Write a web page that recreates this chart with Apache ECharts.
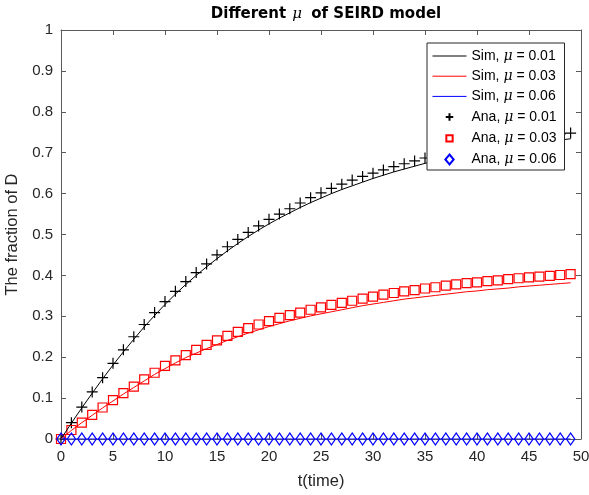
<!DOCTYPE html>
<html>
<head>
<meta charset="utf-8">
<script src="https://cdn.jsdelivr.net/npm/echarts@6/dist/echarts.min.js"></script>
<style>
  html, body { margin: 0; padding: 0; background: #fff; }
  #chart { width: 589px; height: 495px; }
</style>
</head>
<body>
<div id="chart"></div>
<script>
// time steps 0..49
var t = [];
for (var i = 0; i < 50; i++) t.push(i);

var simMu001 = [0, 0.039, 0.076, 0.112, 0.147, 0.181, 0.213, 0.244, 0.274, 0.302, 0.329, 0.354, 0.378, 0.400, 0.421, 0.441, 0.460, 0.478, 0.495, 0.511, 0.526, 0.540, 0.553, 0.566, 0.578, 0.589, 0.600, 0.610, 0.619, 0.628, 0.637, 0.645, 0.653, 0.660, 0.667, 0.674, 0.680, 0.686, 0.691, 0.696, 0.701, 0.706, 0.710, 0.714, 0.718, 0.722, 0.725, 0.728, 0.731, 0.734];
var simMu003 = [0, 0.021, 0.040, 0.058, 0.076, 0.093, 0.110, 0.126, 0.142, 0.158, 0.172, 0.186, 0.199, 0.210, 0.221, 0.231, 0.241, 0.250, 0.259, 0.267, 0.275, 0.282, 0.289, 0.295, 0.301, 0.306, 0.311, 0.316, 0.321, 0.326, 0.330, 0.334, 0.338, 0.342, 0.345, 0.348, 0.351, 0.354, 0.357, 0.360, 0.362, 0.365, 0.367, 0.369, 0.372, 0.374, 0.376, 0.378, 0.380, 0.382];
var simMu006 = [0, 0, 0, 0, 0, 0, 0, 0, 0, 0, 0, 0, 0, 0, 0, 0, 0, 0, 0, 0, 0, 0, 0, 0, 0, 0, 0, 0, 0, 0, 0, 0, 0, 0, 0, 0, 0, 0, 0, 0, 0, 0, 0, 0, 0, 0, 0, 0, 0, 0];

var anaMu001 = [0, 0.040, 0.078, 0.115, 0.150, 0.185, 0.218, 0.250, 0.280, 0.309, 0.336, 0.361, 0.385, 0.407, 0.428, 0.450, 0.470, 0.488, 0.505, 0.521, 0.537, 0.550, 0.563, 0.577, 0.590, 0.602, 0.613, 0.623, 0.633, 0.642, 0.650, 0.658, 0.666, 0.673, 0.680, 0.687, 0.694, 0.700, 0.706, 0.712, 0.717, 0.722, 0.726, 0.730, 0.734, 0.738, 0.741, 0.744, 0.746, 0.748];
var anaMu003 = [0, 0.022, 0.040, 0.059, 0.077, 0.095, 0.112, 0.128, 0.146, 0.162, 0.179, 0.192, 0.205, 0.218, 0.230, 0.241, 0.252, 0.262, 0.271, 0.280, 0.288, 0.296, 0.303, 0.309, 0.316, 0.322, 0.328, 0.333, 0.338, 0.343, 0.348, 0.353, 0.357, 0.361, 0.364, 0.368, 0.371, 0.375, 0.378, 0.381, 0.383, 0.386, 0.388, 0.391, 0.393, 0.395, 0.397, 0.399, 0.401, 0.403];
var anaMu006 = [0, 0, 0, 0, 0, 0, 0, 0, 0, 0, 0, 0, 0, 0, 0, 0, 0, 0, 0, 0, 0, 0, 0, 0, 0, 0, 0, 0, 0, 0, 0, 0, 0, 0, 0, 0, 0, 0, 0, 0, 0, 0, 0, 0, 0, 0, 0, 0, 0, 0];

var seriesNames = ['Sim, μ = 0.01', 'Sim, μ = 0.03', 'Sim, μ = 0.06', 'Ana, μ = 0.01', 'Ana, μ = 0.03', 'Ana, μ = 0.06'];

function pairs(ys) {
  return ys.map(function (y, k) { return [t[k], y]; });
}

var plusPath = 'path://M5,0L5,10M0,5L10,5';
var squarePath = 'path://M0,0L10,0L10,10L0,10Z';
var diamondPath = 'path://M5,0L10,6L5,12L0,6Z';
// legend icons, padded with an empty move so they come out a bit smaller
var plusIcon = 'path://M0,0M12,12M6,1.5L6,10.5M1.5,6L10.5,6';
var squareIcon = 'path://M0,0M12,12M2.2,2.2L9.8,2.2L9.8,9.8L2.2,9.8Z';
var fontName = 'Liberation Sans, Arial, sans-serif';
var textColor = '#262626';
var axisColor = '#5a5a5a';

var chart = echarts.init(document.getElementById('chart'));

function xAx(pos, labels) {
  return {
    type: 'value', position: pos, min: 0, max: 50, interval: 5,
    name: labels ? 't(time)' : '', nameLocation: 'middle', nameGap: 34,
    nameTextStyle: { fontFamily: fontName, fontSize: 16.5, color: textColor },
    axisLine: { show: true, onZero: false, lineStyle: { color: axisColor, width: 1 } },
    axisTick: { show: true, inside: true, length: 5, lineStyle: { color: axisColor } },
    axisLabel: { show: labels, fontFamily: fontName, fontSize: 15, color: textColor, margin: 10 },
    splitLine: { show: false }
  };
}
function yAx(pos, labels) {
  return {
    type: 'value', position: pos, min: 0, max: 1, interval: 0.1,
    name: labels ? 'The fraction of D' : '', nameLocation: 'middle', nameGap: 36,
    nameTextStyle: { fontFamily: fontName, fontSize: 16.5, color: textColor },
    axisLine: { show: true, onZero: false, lineStyle: { color: axisColor, width: 1 } },
    axisTick: { show: true, inside: true, length: 5, lineStyle: { color: axisColor } },
    axisLabel: { show: labels, fontFamily: fontName, fontSize: 15, color: textColor, margin: 8,
      formatter: function (v) { return String(Math.round(v * 10) / 10); } },
    splitLine: { show: false }
  };
}

function legendItem(name, k) {
  // line entries: hide the default marker on the line icon
  if (k < 3) return { name: name, itemStyle: { opacity: 0 }, lineStyle: { width: 1 } };
  if (k === 3) return { name: name, icon: plusIcon };
  if (k === 4) return { name: name, icon: squareIcon };
  return { name: name };
}

chart.setOption({
  animation: false,
  backgroundColor: '#fff',
  title: {
    text: 'Different {m|μ} of SEIRD model',
    left: 321, top: 2, textAlign: 'center',
    textStyle: {
      fontFamily: 'DejaVu Sans', fontSize: 15, fontWeight: 'bold', color: '#000',
      rich: { m: { fontFamily: 'DejaVu Serif', fontStyle: 'italic', fontWeight: 'normal', fontSize: 15, color: '#000', padding: [0, 4, 0, 1] } }
    }
  },
  grid: { left: 61, right: 8, top: 30, bottom: 56, containLabel: false, outerBoundsMode: 'none' },
  xAxis: [xAx('bottom', true), xAx('top', false)],
  yAxis: [yAx('left', true), yAx('right', false)],
  legend: {
    orient: 'vertical', left: 427, top: 43,
    padding: [6, 8, 3, 5],
    itemWidth: 34, itemHeight: 10, itemGap: 6.2, itemTextGap: 5,
    backgroundColor: '#fff', borderColor: '#262626', borderWidth: 1,
    lineStyle: { width: 1 },
    data: seriesNames.map(legendItem),
    textStyle: {
      fontFamily: fontName, fontSize: 14, color: '#000', lineHeight: 14,
      rich: { m: { fontFamily: 'DejaVu Serif', fontStyle: 'italic', fontSize: 14, lineHeight: 14, color: '#000' } }
    },
    formatter: function (name) { return name.replace('μ', '{m|μ}'); }
  },
  series: [
    { name: seriesNames[0], type: 'line', data: pairs(simMu001), symbol: 'none', lineStyle: { color: '#000', width: 1 }, itemStyle: { color: '#000' } },
    { name: seriesNames[1], type: 'line', data: pairs(simMu003), symbol: 'none', lineStyle: { color: '#ff0000', width: 1 }, itemStyle: { color: '#ff0000' } },
    { name: seriesNames[2], type: 'line', data: pairs(simMu006), symbol: 'none', lineStyle: { color: '#0000ff', width: 1 }, itemStyle: { color: '#0000ff' } },
    { name: seriesNames[3], type: 'scatter', data: pairs(anaMu001), symbol: plusPath, symbolSize: 11, symbolKeepAspect: true,
      itemStyle: { color: 'none', borderColor: '#000', borderWidth: 1.2, opacity: 1 } },
    { name: seriesNames[4], type: 'scatter', data: pairs(anaMu003), symbol: squarePath, symbolSize: 9, symbolKeepAspect: true,
      itemStyle: { color: 'none', borderColor: '#ff0000', borderWidth: 1.2, opacity: 1 } },
    { name: seriesNames[5], type: 'scatter', data: pairs(anaMu006), symbol: diamondPath, symbolSize: [10, 12], symbolKeepAspect: true,
      itemStyle: { color: 'none', borderColor: '#0000ff', borderWidth: 1.2, opacity: 1 } }
  ]
});
</script>
</body>
</html>
